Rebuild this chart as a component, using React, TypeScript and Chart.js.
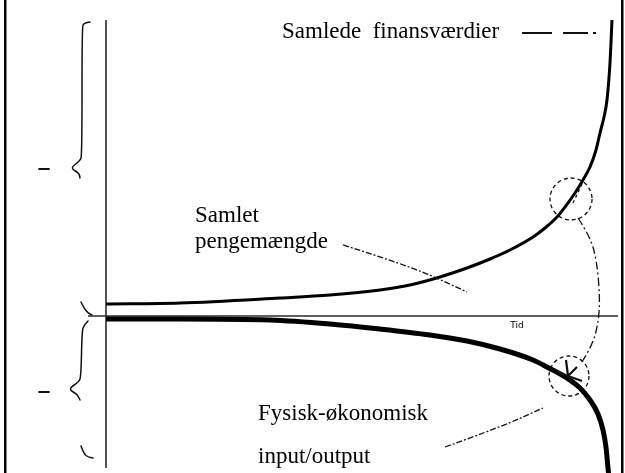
import React, { useEffect, useRef } from "react";
import { Chart, registerables } from "chart.js";

Chart.register(...registerables);

// ---- Data (x = tid 0..100, y = størrelse) ----
const finansTime = [0, 14.62, 34.39, 44.27, 54.15, 60.08, 66.01, 71.34, 75.89, 79.84, 84.39, 86.76, 89.13, 90.71, 92.69, 94.27, 95.65, 96.84, 97.63, 98.42, 99.01, 99.6, 100];
const finansValues = [4.05, 4.39, 6.08, 7.09, 8.78, 10.47, 13.18, 16.22, 19.26, 22.3, 26.69, 29.73, 33.45, 36.82, 41.55, 45.95, 50.34, 56.08, 61.82, 67.23, 72.97, 85.47, 100];

const fysiskTime = [0, 14.62, 32.41, 44.27, 54.15, 64.03, 71.34, 77.87, 84.39, 87.15, 91.11, 93.68, 95.65, 97.23, 98.22, 98.81, 99.21, 99.41];
const fysiskValues = [-1.01, -1.01, -1.35, -2.7, -4.39, -6.42, -8.45, -11.15, -14.86, -17.23, -20.95, -24.32, -28.38, -33.11, -38.51, -44.26, -51.35, -54.73];

const X_MIN = 0;
const X_MAX = 100;
const Y_MIN = -51.35;
const Y_MAX = 100;

// ---- Labels ----
const labelFinans = "Samlede  finansværdier";
const labelPenge = ["Samlet", "pengemængde"];
const labelFysisk = ["Fysisk-økonomisk", "input/output"];
const labelTid = "Tid";

// ---- Annotation geometry (data units) ----
const axisXExtent = [-3.56, 101.19];
const braceTopA = [[-3.16, 99.32], [-4.35, 98.99], [-4.74, 97.64], [-4.74, 54.39], [-5.14, 52.36], [-7.11, 50.0], [-5.34, 48.31], [-5.14, 46.62]];
const braceTopB = [[-4.94, 4.73], [-4.35, 2.7], [-3.56, 1.01], [-2.77, 0.34]];
const braceBotA = [[-3.56, -1.69], [-4.35, -3.04], [-4.74, -5.07], [-4.94, -20.27], [-5.34, -22.3], [-7.51, -24.66], [-5.73, -26.35], [-5.14, -28.38]];
const braceBotB = [[-4.94, -43.92], [-4.35, -46.62], [-3.56, -47.64], [-2.57, -47.97]];
const minusMarks = [49.66, -25.68];
const minusX = [-13.24, -11.26];

const finansText = [34.78, 93.92];
const finansDashes = [[82.21, 88.14], [90.32, 95.26], [96.25, 96.84]];
const finansDashY = 95.61;

const pengeText = [17.59, 31.76, 22.97];
const pengeLeader = [[46.84, 23.99], [60.0, 17.0], [71.34, 8.11]];

const fysiskText = [30.04, -35.14, -49.66];
const fysiskLeader = [[67.0, -44.26], [78.0, -37.5], [86.36, -31.08]];

const circleTop = [91.9, 39.53];
const circleBot = [91.5, -20.27];
const innerDash = [[94.07, 44.59], [92.29, 38.18]];
const connector = [[93.28, 33.11], [95.65, 27.03], [97.04, 18.24], [97.63, 5.41], [97.23, -3.04], [96.05, -9.8], [94.07, -15.54]];
const tidPos = [81.23, -3.38];

const decor = {
  id: "decor",
  beforeDatasetsDraw(chart: any) {
    const { ctx } = chart;
    const sx = chart.scales.x;
    const sy = chart.scales.y;
    const X = (v: number) => sx.getPixelForValue(v);
    const Y = (v: number) => sy.getPixelForValue(v);
    ctx.save();
    ctx.fillStyle = "#000";
    ctx.fillRect(4, 0, 2.5, chart.height);
    ctx.fillRect(chart.width - 4, 0, 2.5, chart.height);
    ctx.strokeStyle = "#2a2a2a";
    ctx.lineWidth = 1.6;
    ctx.beginPath();
    ctx.moveTo(X(0), Y(Y_MAX));
    ctx.lineTo(X(0), Y(Y_MIN));
    ctx.stroke();
    ctx.lineWidth = 1.3;
    ctx.beginPath();
    ctx.moveTo(X(axisXExtent[0]), Y(0));
    ctx.lineTo(X(axisXExtent[1]), Y(0));
    ctx.stroke();
    ctx.restore();
  },
  afterDatasetsDraw(chart: any) {
    const { ctx } = chart;
    const sx = chart.scales.x;
    const sy = chart.scales.y;
    const X = (v: number) => sx.getPixelForValue(v);
    const Y = (v: number) => sy.getPixelForValue(v);
    const poly = (pts: number[][]) => {
      ctx.beginPath();
      pts.forEach((p, i) => (i ? ctx.lineTo(X(p[0]), Y(p[1])) : ctx.moveTo(X(p[0]), Y(p[1]))));
      ctx.stroke();
    };
    const smooth = (pts: number[][]) => {
      ctx.beginPath();
      ctx.moveTo(X(pts[0][0]), Y(pts[0][1]));
      for (let i = 1; i < pts.length - 1; i++) {
        const mx = (X(pts[i][0]) + X(pts[i + 1][0])) / 2;
        const my = (Y(pts[i][1]) + Y(pts[i + 1][1])) / 2;
        ctx.quadraticCurveTo(X(pts[i][0]), Y(pts[i][1]), mx, my);
      }
      const l = pts[pts.length - 1];
      ctx.lineTo(X(l[0]), Y(l[1]));
      ctx.stroke();
    };
    ctx.save();
    ctx.strokeStyle = "#111";
    ctx.lineCap = "round";
    ctx.lineJoin = "round";

    ctx.lineWidth = 1.5;
    smooth(braceTopA);
    smooth(braceTopB);
    smooth(braceBotA);
    smooth(braceBotB);
    ctx.lineWidth = 1.8;
    minusMarks.forEach((m) => poly([[minusX[0], m], [minusX[1], m]]));

    ctx.fillStyle = "#000";
    ctx.font = '23px "Liberation Serif", "Times New Roman", serif';
    ctx.textBaseline = "alphabetic";
    ctx.textAlign = "left";
    ctx.fillText(labelFinans, X(finansText[0]), Y(finansText[1]));
    ctx.fillText(labelPenge[0], X(pengeText[0]), Y(pengeText[1]));
    ctx.fillText(labelPenge[1], X(pengeText[0]), Y(pengeText[2]));
    ctx.fillText(labelFysisk[0], X(fysiskText[0]), Y(fysiskText[1]));
    ctx.fillText(labelFysisk[1], X(fysiskText[0]), Y(fysiskText[2]));
    ctx.font = '9px "DejaVu Sans", sans-serif';
    ctx.textAlign = "center";
    ctx.textBaseline = "middle";
    ctx.fillText(labelTid, X(tidPos[0]), Y(tidPos[1]));

    ctx.lineWidth = 2;
    ctx.lineCap = "butt";
    finansDashes.forEach((d) => poly([[d[0], finansDashY], [d[1], finansDashY]]));

    ctx.lineWidth = 1.3;
    ctx.setLineDash([6, 2, 2, 2]);
    smooth(pengeLeader);
    smooth(fysiskLeader);

    ctx.setLineDash([4, 3]);
    ctx.beginPath();
    ctx.arc(X(circleTop[0]), Y(circleTop[1]), 21, 0, Math.PI * 2);
    ctx.stroke();
    ctx.beginPath();
    ctx.arc(X(circleBot[0]), Y(circleBot[1]), 20, 0, Math.PI * 2);
    ctx.stroke();
    ctx.setLineDash([3, 3]);
    poly(innerDash);
    ctx.setLineDash([8, 3, 2, 3]);
    smooth(connector);

    ctx.setLineDash([]);
    ctx.lineWidth = 2.2;
    const cx = X(circleBot[0]) - 1;
    const cy = Y(circleBot[1]);
    const spikes = [[-2, -16], [14, 5], [4, 8], [-10, -4], [9, -9]];
    spikes.forEach((s) => {
      ctx.beginPath();
      ctx.moveTo(cx, cy);
      ctx.lineTo(cx + s[0], cy + s[1]);
      ctx.stroke();
    });
    ctx.restore();
  },
};

export default function App() {
  const ref = useRef<HTMLCanvasElement | null>(null);
  useEffect(() => {
    document.body.style.margin = "0";
    const canvas = ref.current;
    if (!canvas) return;
    const chart = new Chart(canvas, {
      type: "line",
      data: {
        datasets: [
          {
            label: "Samlede finansværdier",
            data: finansTime.map((t, i) => ({ x: t, y: finansValues[i] })),
            borderColor: "#000",
            borderWidth: 3,
            pointRadius: 0,
            cubicInterpolationMode: "monotone",
            clip: false as any,
            fill: false,
          },
          {
            label: "Fysisk-økonomisk input/output",
            data: fysiskTime.map((t, i) => ({ x: t, y: fysiskValues[i] })),
            borderColor: "#000",
            borderWidth: 5,
            pointRadius: 0,
            cubicInterpolationMode: "monotone",
            clip: false as any,
            fill: false,
          },
        ],
      },
      options: {
        animation: false,
        responsive: false,
        devicePixelRatio: 1,
        layout: { padding: { left: 106, right: 13, top: 20, bottom: 5 } },
        plugins: { legend: { display: false }, tooltip: { enabled: false } },
        events: [],
        scales: {
          x: { type: "linear", display: false, min: X_MIN, max: X_MAX },
          y: { type: "linear", display: false, min: Y_MIN, max: Y_MAX },
        },
      },
      plugins: [decor],
    } as any);
    return () => chart.destroy();
  }, []);
  return (
    <div style={{ width: 625, height: 473, background: "#fff" }}>
      <canvas ref={ref} width={625} height={473} style={{ display: "block" }} />
    </div>
  );
}
